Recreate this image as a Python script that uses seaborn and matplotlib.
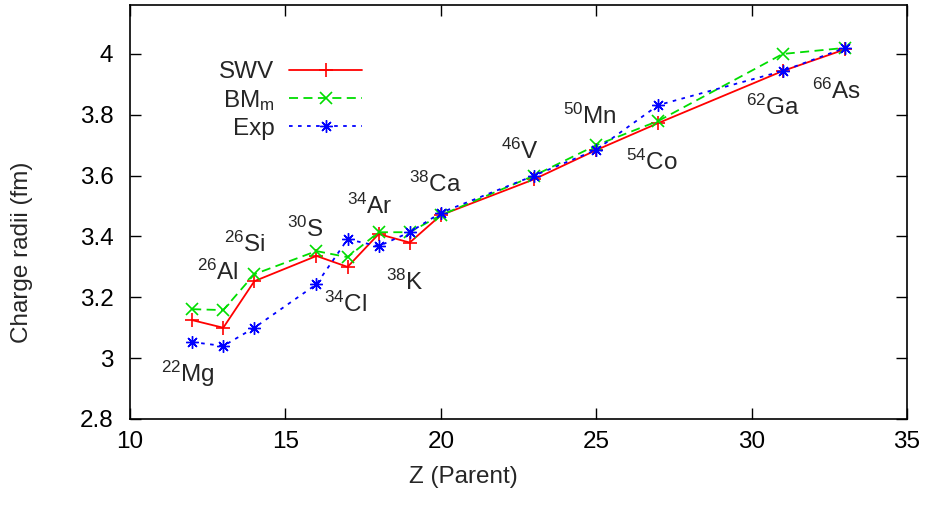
import numpy as np
import pandas as pd
import seaborn as sns
import matplotlib
matplotlib.use("Agg")
import matplotlib.pyplot as plt

# charge radii vs Z of the parent nucleus
z = [12, 13, 14, 16, 17, 18, 19, 20, 23, 25, 27, 31, 33]
swv = [3.125, 3.100, 3.253, 3.336, 3.300, 3.408, 3.380, 3.470, 3.588, 3.684, 3.773, 3.944, 4.015]
bmm = [3.161, 3.158, 3.276, 3.352, 3.332, 3.414, 3.414, 3.470, 3.600, 3.700, 3.780, 4.000, 4.020]
exp = [3.053, 3.040, 3.100, 3.243, 3.391, 3.368, 3.414, 3.478, 3.600, 3.685, 3.832, 3.944, 4.020]

nuclei = ["22Mg", "26Al", "26Si", "30S", "34Cl", "34Ar", "38K", "38Ca",
          "46V", "50Mn", "54Co", "62Ga", "66As"]
label_x = [11.87, 12.83, 13.70, 15.63, 16.92, 17.72, 18.85, 19.81, 22.55, 24.80, 26.79, 30.69, 32.75]
label_y = [2.947, 3.283, 3.375, 3.424, 3.178, 3.500, 3.250, 3.572, 3.680, 3.796, 3.645, 3.826, 3.878]

sns.set_theme(style="ticks")
plt.rcParams["font.family"] = ["Liberation Sans", "DejaVu Sans"]
plt.rcParams["mathtext.fontset"] = "custom"
plt.rcParams["mathtext.rm"] = "Liberation Sans"
plt.rcParams["mathtext.it"] = "Liberation Sans"
plt.rcParams["mathtext.default"] = "rm"

FS = 17.5

fig = plt.figure(figsize=(9.26, 5.05), dpi=100)
ax = fig.add_axes([0.1404, 0.1703, 0.8391, 0.8198])

df = pd.DataFrame({"Z": z, "SWV": swv, "BMm": bmm, "Exp": exp})

sns.lineplot(data=df, x="Z", y="SWV", ax=ax, color="#ff0000", linestyle="-",
             marker="+", markersize=10, markeredgewidth=1.2, markeredgecolor="#ff0000",
             linewidth=1.3, label="SWV", estimator=None, sort=False)
sns.lineplot(data=df, x="Z", y="BMm", ax=ax, color="#00dd00", dashes=(5, 3),
             marker="x", markersize=8, markeredgewidth=1.2, markeredgecolor="#00dd00",
             linewidth=1.3, label="BM$_\\mathrm{m}$", estimator=None, sort=False)
sns.lineplot(data=df, x="Z", y="Exp", ax=ax, color="#0000ff", dashes=(2, 3),
             marker=(8, 2, 0), markersize=9, markeredgewidth=1.0, markeredgecolor="#0000ff",
             linewidth=1.3, label="Exp", estimator=None, sort=False)

for name, lx, ly in zip(nuclei, label_x, label_y):
    num = "".join(c for c in name if c.isdigit())
    sym = "".join(c for c in name if c.isalpha())
    ax.text(lx, ly, "$^{%s}$%s" % (num, sym), fontsize=FS, ha="center", va="center")

ax.set_xlim(10, 35)
ax.set_ylim(2.8, 4.161)
ax.set_xticks([10, 15, 20, 25, 30, 35])
ax.set_yticks([2.8, 3.0, 3.2, 3.4, 3.6, 3.8, 4.0])
ax.set_yticklabels(["2.8", "3", "3.2", "3.4", "3.6", "3.8", "4"])
ax.tick_params(direction="in", length=8, width=1, top=True, right=True,
               labelsize=FS, colors="black")
ax.tick_params(axis="x", pad=9)
ax.tick_params(axis="y", pad=12)
for s in ax.spines.values():
    s.set_linewidth(1.2)
    s.set_color("black")

ax.set_xlabel("Z (Parent)", fontsize=FS)
ax.set_ylabel("Charge radii (fm)", fontsize=FS)
ax.xaxis.set_label_coords(0.5, (505 - 477) / 505, transform=fig.transFigure)
ax.yaxis.set_label_coords(22 / 926, 0.5, transform=fig.transFigure)
ax.xaxis.label.set_va("center")
ax.yaxis.label.set_va("center")

ax.legend(loc="upper right", bbox_to_anchor=(362 / 926, 1 - 61 / 505),
          bbox_transform=fig.transFigure, frameon=False, borderpad=0,
          borderaxespad=0, markerfirst=False, fontsize=FS, handlelength=3.0,
          handletextpad=0.6, labelspacing=0.2, numpoints=1)

fig.savefig("out.png", dpi=100)
